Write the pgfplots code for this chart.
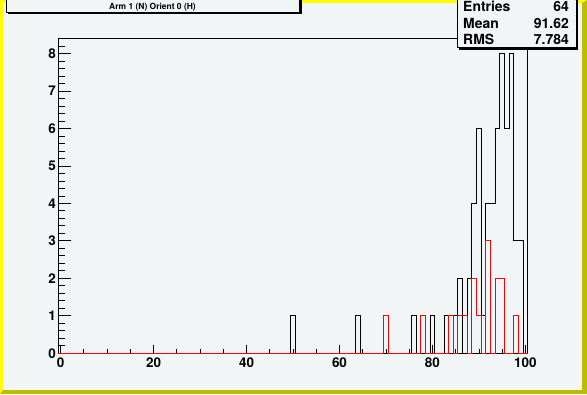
\documentclass[border=0pt]{standalone}
\usepackage{fontspec}
\setmainfont{TeX Gyre Heros}
\usepackage{pgfplots}
\usepackage{pgfplotstable}
\pgfplotsset{compat=1.18}
\definecolor{padbg}{HTML}{F2F5F6}
\definecolor{bordhi}{HTML}{FFFF00}
\definecolor{bordlo}{HTML}{BDBD00}
\definecolor{rootred}{HTML}{FF0000}

% bin left edge, content (bins of width 1 centred on integers)
\pgfplotstableread{
x y
-0.5 0
49.5 1
50.5 0
63.5 1
64.5 0
75.5 1
76.5 0
79.5 1
80.5 0
82.5 1
83.5 1
84.5 1
85.5 2
86.5 0
87.5 2
88.5 4
89.5 6
90.5 1
91.5 4
92.5 4
93.5 6
94.5 8
95.5 6
96.5 8
97.5 3
98.5 3
99.5 0
100.5 0
}\blackhist

\pgfplotstableread{
x y
-0.5 0
69.5 1
70.5 0
77.5 1
78.5 0
83.5 1
84.5 0
85.5 1
86.5 1
87.5 0
88.5 2
89.5 1
90.5 0
91.5 3
92.5 0
93.5 2
94.5 2
95.5 0
97.5 1
98.5 0
100.5 0
}\redhist

\begin{document}
\begin{tikzpicture}[x=1bp,y=1bp]
\useasboundingbox (0,0) rectangle (587,394);
\begin{scope}
\clip (0,0) rectangle (587,394);
\fill[padbg] (0,0) rectangle (587,394);
% raised border
\fill[bordhi] (0,0) -- (0,394) -- (587,394) -- (582,391) -- (3,391) -- (3,4) -- cycle;
\fill[bordlo] (587,394) -- (587,0) -- (0,0) -- (3,4) -- (582,4) -- (582,391) -- cycle;

\begin{axis}[
  at={(58.3bp,40.7bp)}, anchor=south west,
  scale only axis,
  width=469.4bp, height=314.8bp,
  xmin=-0.5, xmax=100.5, ymin=0, ymax=8.4,
  axis background/.style={fill=padbg},
  axis line style={black, line width=0.8bp},
  tick pos=left,
  tick align=inside,
  xtick={0,20,40,60,80,100},
  minor x tick num=3,
  ytick={0,1,2,3,4,5,6,7,8},
  minor ytick={0.2,0.4,0.6,0.8,1.2,1.4,1.6,1.8,2.2,2.4,2.6,2.8,3.2,3.4,3.6,3.8,4.2,4.4,4.6,4.8,5.2,5.4,5.6,5.8,6.2,6.4,6.6,6.8,7.2,7.4,7.6,7.8,8.2},
  xtick style={black, line width=0.8bp, /pgfplots/major tick length=8bp},
  minor x tick style={black, line width=0.8bp, /pgfplots/minor tick length=4bp},
  ytick style={black, line width=0.8bp, /pgfplots/major tick length=13bp},
  minor y tick style={black, line width=0.8bp, /pgfplots/minor tick length=6.5bp},
  /pgf/number format/assume math mode=true,
  tick label style={font=\fontsize{13.5}{13.5}\selectfont\bfseries},
  xticklabel style={yshift=-1bp},
  yticklabel style={xshift=1bp},
  clip=false,
]
\addplot[const plot, black, line width=1bp] table[x=x, y=y] {\blackhist};
\addplot[const plot, rootred, line width=1bp] table[x=x, y=y] {\redhist};
\end{axis}

% title box
\fill[black] (8,379.7) rectangle (301.5,399);
\filldraw[fill=padbg, draw=black, line width=0.8bp] (6,381.7) rectangle (299,399);
\node[font=\fontsize{8.5}{8.5}\selectfont\bfseries, inner sep=0] at (152.5,386.8) {Arm 1 (N) Orient 0 (H)};

% stats box
\fill[black] (459.3,344.3) rectangle (578,399);
\filldraw[fill=padbg, draw=black, line width=0.8bp] (457.3,346.3) rectangle (576,399);
\begin{scope}[every node/.style={font=\fontsize{14}{14}\selectfont\bfseries, inner sep=0}]
\node[anchor=base west] at (463,382.3) {Entries};
\node[anchor=base east] at (569,382.3) {64};
\node[anchor=base west] at (463,365.9) {Mean};
\node[anchor=base east] at (569,365.9) {91.62};
\node[anchor=base west] at (463,349.7) {RMS};
\node[anchor=base east] at (569,349.7) {7.784};
\end{scope}
\end{scope}
\end{tikzpicture}
\end{document}
